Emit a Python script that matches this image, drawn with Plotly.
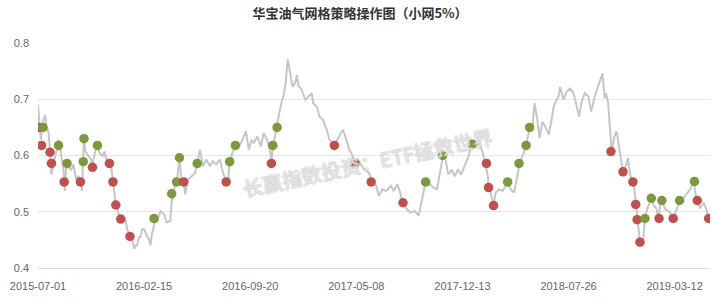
import plotly.graph_objects as go

# ---------------- data ----------------
tick_idx = [0, 150, 300, 450, 600, 750, 900]
tick_labels = ["2015-07-01", "2016-02-15", "2016-09-20", "2017-05-08",
               "2017-12-13", "2018-07-26", "2019-03-12"]

line_idx = [
    0, 2, 4, 6, 10, 12, 15, 17, 18, 19,
    22, 24, 27, 29, 31, 33, 36, 38, 40, 43,
    47, 50, 52, 54, 57, 60, 62, 64, 65, 67,
    70, 75, 76, 80, 83, 87, 91, 94, 96, 101,
    104, 106, 108, 110, 112, 116, 119, 124, 126, 130,
    133, 136, 138, 140, 143, 145, 147, 150, 152, 154,
    157, 159, 161, 164, 165, 168, 173, 178, 182, 187,
    190, 191, 194, 196, 200, 203, 206, 208, 212, 217,
    222, 225, 229, 233, 238, 243, 247, 252, 257, 261,
    266, 269, 271, 275, 279, 284, 289, 294, 298, 302,
    305, 310, 315, 319, 324, 329, 330, 332, 335, 337,
    340, 345, 347, 350, 353, 357, 360, 364, 366, 368,
    373, 378, 382, 387, 389, 394, 398, 403, 408, 412,
    417, 419, 423, 426, 431, 436, 440, 444, 447, 452,
    457, 461, 466, 468, 472, 478, 482, 487, 492, 499,
    503, 508, 512, 515, 522, 526, 533, 538, 543, 548,
    554, 559, 564, 568, 573, 576, 580, 585, 589, 594,
    598, 603, 608, 613, 617, 624, 629, 632, 636, 637,
    640, 644, 647, 652, 657, 664, 668, 673, 678, 681,
    685, 690, 695, 699, 702, 706, 709, 713, 717, 722,
    726, 729, 732, 736, 738, 743, 747, 752, 757, 761,
    765, 768, 773, 778, 782, 787, 792, 795, 798, 801,
    803, 806, 808, 811, 815, 818, 822, 827, 831, 834,
    837, 841, 843, 845, 848, 851, 855, 858, 861, 867,
    871, 874, 877, 880, 882, 887, 892, 898, 903, 907,
    911, 917, 922, 927, 931, 936, 941, 945, 948,
]
line_val = [
    0.690, 0.651, 0.628, 0.655, 0.672, 0.652, 0.640, 0.607, 0.593, 0.566,
    0.584, 0.599, 0.614, 0.628, 0.610, 0.599, 0.575, 0.537, 0.587, 0.579,
    0.575, 0.584, 0.570, 0.557, 0.564, 0.554, 0.537, 0.593, 0.632, 0.607,
    0.602, 0.593, 0.579, 0.605, 0.619, 0.605, 0.599, 0.607, 0.596, 0.587,
    0.575, 0.554, 0.534, 0.513, 0.504, 0.487, 0.490, 0.484, 0.469, 0.456,
    0.451, 0.434, 0.440, 0.440, 0.455, 0.455, 0.469, 0.469, 0.464, 0.457,
    0.451, 0.440, 0.460, 0.475, 0.488, 0.481, 0.501, 0.496, 0.481, 0.484,
    0.532, 0.522, 0.552, 0.549, 0.596, 0.552, 0.553, 0.531, 0.557, 0.563,
    0.569, 0.586, 0.610, 0.581, 0.593, 0.581, 0.590, 0.584, 0.593, 0.572,
    0.553, 0.561, 0.589, 0.605, 0.618, 0.616, 0.628, 0.643, 0.610, 0.628,
    0.622, 0.634, 0.616, 0.640, 0.628, 0.602, 0.586, 0.618, 0.633, 0.650,
    0.669, 0.699, 0.705, 0.728, 0.771, 0.740, 0.722, 0.731, 0.743, 0.725,
    0.716, 0.699, 0.705, 0.711, 0.693, 0.687, 0.669, 0.663, 0.646, 0.628,
    0.623, 0.619, 0.628, 0.634, 0.646, 0.628, 0.610, 0.602, 0.586, 0.593,
    0.584, 0.575, 0.571, 0.569, 0.554, 0.546, 0.528, 0.540, 0.537, 0.546,
    0.537, 0.549, 0.534, 0.516, 0.504, 0.499, 0.501, 0.493, 0.522, 0.554,
    0.549, 0.543, 0.540, 0.569, 0.602, 0.593, 0.566, 0.575, 0.563, 0.575,
    0.566, 0.581, 0.596, 0.619, 0.616, 0.622, 0.604, 0.587, 0.563, 0.544,
    0.534, 0.511, 0.534, 0.540, 0.537, 0.553, 0.540, 0.534, 0.569, 0.586,
    0.599, 0.617, 0.650, 0.652, 0.693, 0.663, 0.631, 0.660, 0.652, 0.637,
    0.663, 0.687, 0.696, 0.705, 0.722, 0.699, 0.713, 0.719, 0.711, 0.690,
    0.669, 0.693, 0.711, 0.705, 0.678, 0.705, 0.722, 0.734, 0.746, 0.702,
    0.711, 0.693, 0.652, 0.607, 0.634, 0.643, 0.610, 0.572, 0.581, 0.596,
    0.566, 0.554, 0.540, 0.513, 0.486, 0.446, 0.440, 0.488, 0.504, 0.524,
    0.510, 0.507, 0.489, 0.516, 0.520, 0.504, 0.501, 0.489, 0.504, 0.520,
    0.522, 0.531, 0.540, 0.554, 0.520, 0.507, 0.516, 0.504, 0.489,
]

sell_idx = [1, 5, 17, 19, 37, 60, 77, 101, 106, 110, 117, 130, 206, 266, 330,
            419, 448, 471, 516, 634, 637, 644, 810, 827, 841, 845, 847, 851,
            878, 898, 932, 948]
sell_val = [0.650, 0.618, 0.606, 0.586, 0.553, 0.553, 0.579, 0.586, 0.553, 0.512,
            0.487, 0.456, 0.553, 0.553, 0.586, 0.618, 0.586, 0.553, 0.516, 0.586,
            0.543, 0.511, 0.607, 0.571, 0.553, 0.513, 0.486, 0.446, 0.488, 0.488,
            0.520, 0.488]

buy_idx = [7, 29, 41, 64, 65, 84, 164, 189, 196, 200, 225, 271, 279, 332, 338,
           548, 572, 614, 664, 680, 690, 695, 858, 867, 882, 907, 928]
buy_val = [0.650, 0.618, 0.586, 0.589, 0.630, 0.618, 0.488, 0.532, 0.553, 0.596,
           0.586, 0.589, 0.618, 0.618, 0.650, 0.553, 0.600, 0.620, 0.553, 0.586,
           0.618, 0.650, 0.488, 0.524, 0.520, 0.520, 0.554]

title_text = "华宝油气网格策略操作图（小网5%）"
watermark_text = "长赢指数投资：ETF拯救世界"

# ---------------- styles ----------------
RED = "#c0504d"
GREEN = "#7a9a3c"
LINE = "#c6c6c6"
CJK = "Noto Sans CJK SC"

# merge markers in chronological order (later ones drawn on top)
pts = sorted([(i, v, RED) for i, v in zip(sell_idx, sell_val)] +
             [(i, v, GREEN) for i, v in zip(buy_idx, buy_val)],
             key=lambda p: p[0])

fig = go.Figure()
fig.add_trace(go.Scatter(
    x=line_idx, y=line_val, mode="lines",
    line=dict(color=LINE, width=2), hoverinfo="skip", showlegend=False))
fig.add_trace(go.Scatter(
    x=[p[0] for p in pts], y=[p[1] for p in pts], mode="markers",
    marker=dict(size=9.5, color=[p[2] for p in pts], line=dict(width=0)),
    showlegend=False))

fig.update_layout(
    width=720, height=302,
    margin=dict(l=30, r=10, t=43, b=33),
    paper_bgcolor="white", plot_bgcolor="white",
    title=dict(text=title_text, x=0.5, xanchor="center", y=1 - 13 / 302,
               yanchor="middle", yref="container",
               font=dict(family=CJK, size=13, color="#333333", weight="bold")),
    xaxis=dict(range=[0, 950], tickmode="array", tickvals=tick_idx,
               ticktext=tick_labels, showgrid=False, zeroline=False,
               showline=True, linecolor="#dddddd", linewidth=1,
               ticks="", ticklabelstandoff=8,
               tickfont=dict(family="Liberation Sans", size=11, color="#666666")),
    yaxis=dict(range=[0.4, 0.8], tickvals=[0.4, 0.5, 0.6, 0.7, 0.8],
               ticktext=["0.4", "0.5", "0.6", "0.7", "0.8"],
               showgrid=True, gridcolor="#e6e6e6", gridwidth=1, zeroline=False,
               showline=False, ticks="", ticklabelstandoff=8,
               tickfont=dict(family="Liberation Sans", size=11, color="#666666")),
    annotations=[dict(
        text=watermark_text, xref="paper", yref="paper",
        x=0.49, y=0.47, xanchor="center", yanchor="middle",
        textangle=-12, showarrow=False,
        font=dict(family=CJK, size=20, color="rgba(255,255,255,0.5)",
                  shadow="-1px 0 #c4c4c4, 1px 0 #c4c4c4, 0 -1px #c4c4c4, 0 1px #c4c4c4"))],
)

fig.write_html("out.html")
